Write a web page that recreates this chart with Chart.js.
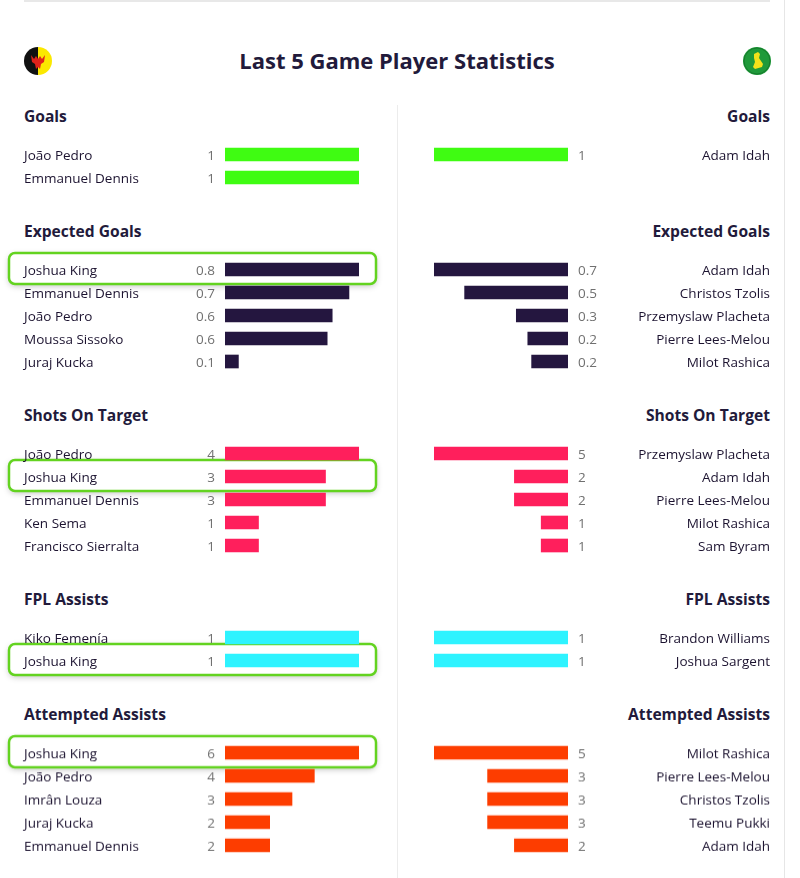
<!DOCTYPE html>
<html>
<head>
<meta charset="utf-8">
<script src="https://cdn.jsdelivr.net/npm/chart.js@4.4.0/dist/chart.umd.min.js"></script>
<style>
  body { margin: 0; background: #fff; }
  #page { position: relative; width: 800px; height: 878px; overflow: hidden; font-family: 'Open Sans', sans-serif; color: #1f1635; }
  .topline { position: absolute; left: 24px; top: 0; width: 746px; height: 2px; background: #e8e8e8; }
  .rightline { position: absolute; left: 784px; top: 0; width: 1px; height: 878px; background: #e6e6e6; }
  .divider { position: absolute; left: 397px; top: 105px; width: 1px; height: 773px; background: #ececec; }
  .title { position: absolute; left: 0; width: 794px; top: 45px; line-height: 30px; text-align: center; font-weight: 700; font-size: 22px; color: #221a3b; }
  .logo { position: absolute; top: 46px; }
  .head { position: absolute; line-height: 20px; height: 20px; font-weight: 700; font-size: 15.6px; color: #221a3b; white-space: nowrap; }
  .head.home { left: 24px; }
  .head.away { right: 30px; text-align: right; }
  canvas { position: absolute; }
</style>
</head>
<body>
<div id="page">
  <div class="topline"></div>
  <div class="rightline"></div>
  <div class="divider"></div>
  <svg class="logo" style="left:23px" width="30" height="30" viewBox="0 0 30 30">
    <defs><clipPath id="c1"><circle cx="15" cy="15" r="14"/></clipPath></defs>
    <g clip-path="url(#c1)">
      <rect x="0" y="0" width="15" height="30" fill="#111"/>
      <rect x="15" y="0" width="15" height="30" fill="#fbe800"/>
    </g>
    <path d="M8 9 L11 13 L13 10 L15 13 L17 10 L19 13 L22 9 L21 16 L18 18 L17 23 L15 21 L13 23 L12 18 L9 16 Z" fill="#e0231b"/>
  </svg>
  <svg class="logo" style="left:742px" width="30" height="30" viewBox="0 0 30 30">
    <circle cx="15" cy="15" r="14" fill="#1f9a3a"/>
    <circle cx="15" cy="15" r="13" fill="none" stroke="#167a2c" stroke-width="1"/>
    <path d="M12 8 L16 6 L18 8 L17 12 L21 18 L20 21 L13 23 L11 21 L13 16 L12 12 Z" fill="#f3e21a"/>
  </svg>
  <div class="title">Last 5 Game Player Statistics</div>
</div>
<script>
// section titles, in page order
const sectionTitles = ['Goals', 'Expected Goals', 'Shots On Target', 'FPL Assists', 'Attempted Assists'];

// home side (left)
const goalsHomeNames = ['João Pedro', 'Emmanuel Dennis'];
const goalsHomeValues = [1, 1];
const xgHomeNames = ['Joshua King', 'Emmanuel Dennis', 'João Pedro', 'Moussa Sissoko', 'Juraj Kucka'];
const xgHomeValues = [0.8, 0.74, 0.64, 0.61, 0.08];
const sotHomeNames = ['João Pedro', 'Joshua King', 'Emmanuel Dennis', 'Ken Sema', 'Francisco Sierralta'];
const sotHomeValues = [4, 3, 3, 1, 1];
const fplHomeNames = ['Kiko Femenía', 'Joshua King'];
const fplHomeValues = [1, 1];
const attHomeNames = ['Joshua King', 'João Pedro', 'Imrân Louza', 'Juraj Kucka', 'Emmanuel Dennis'];
const attHomeValues = [6, 4, 3, 2, 2];

// away side (right)
const goalsAwayNames = ['Adam Idah'];
const goalsAwayValues = [1];
const xgAwayNames = ['Adam Idah', 'Christos Tzolis', 'Przemyslaw Placheta', 'Pierre Lees-Melou', 'Milot Rashica'];
const xgAwayValues = [0.7, 0.54, 0.27, 0.21, 0.19];
const sotAwayNames = ['Przemyslaw Placheta', 'Adam Idah', 'Pierre Lees-Melou', 'Milot Rashica', 'Sam Byram'];
const sotAwayValues = [5, 2, 2, 1, 1];
const fplAwayNames = ['Brandon Williams', 'Joshua Sargent'];
const fplAwayValues = [1, 1];
const attAwayNames = ['Milot Rashica', 'Pierre Lees-Melou', 'Christos Tzolis', 'Teemu Pukki', 'Adam Idah'];
const attAwayValues = [5, 3, 3, 3, 2];

const valueDecimals = [0, 1, 0, 0, 0];
const highlightPlayer = 'Joshua King';

// styling
const barColors = ['#3ffc12', '#24163f', '#ff1f5c', '#2ef3ff', '#fd3d00'];

const sections = [
  [goalsHomeNames, goalsHomeValues, goalsAwayNames, goalsAwayValues],
  [xgHomeNames, xgHomeValues, xgAwayNames, xgAwayValues],
  [sotHomeNames, sotHomeValues, sotAwayNames, sotAwayValues],
  [fplHomeNames, fplHomeValues, fplAwayNames, fplAwayValues],
  [attHomeNames, attHomeValues, attAwayNames, attAwayValues],
];

const ROW = 23.1, PAD = 20;

// names, values and the highlight box, placed from the category scale
const rowLabels = {
  id: 'rowLabels',
  beforeDatasetsDraw(chart, args, o) {
    if (!o.highlight) return;
    const ctx = chart.ctx;
    o.names.forEach((n, i) => {
      if (n !== highlightPlayer) return;
      const cy = chart.scales.y.getPixelForValue(i);
      ctx.save();
      ctx.beginPath();
      ctx.roundRect(9, cy - 16.5, 367, 31, 6);
      ctx.shadowColor = 'rgba(0,0,0,0.25)';
      ctx.shadowBlur = 6;
      ctx.shadowOffsetY = 2;
      ctx.fillStyle = '#fff';
      ctx.fill();
      ctx.shadowColor = 'transparent';
      ctx.lineWidth = 2.5;
      ctx.strokeStyle = '#63d320';
      ctx.stroke();
      ctx.restore();
    });
  },
  afterDatasetsDraw(chart, args, o) {
    const ctx = chart.ctx;
    ctx.save();
    ctx.font = '500 13.5px "Open Sans"';
    ctx.textBaseline = 'alphabetic';
    o.names.forEach((n, i) => {
      const y = chart.scales.y.getPixelForValue(i) + 5.5;
      ctx.fillStyle = '#1c1330';
      ctx.textAlign = o.away ? 'right' : 'left';
      ctx.fillText(n, o.nameX, y);
      ctx.fillStyle = '#707070';
      ctx.textAlign = o.away ? 'left' : 'right';
      ctx.fillText(o.values[i].toFixed(o.decimals), o.valueX, y);
    });
    ctx.restore();
  }
};

function addHead(text, y, away) {
  const d = document.createElement('div');
  d.className = 'head ' + (away ? 'away' : 'home');
  d.style.top = (y - 10.5) + 'px';
  d.textContent = text;
  document.getElementById('page').appendChild(d);
}

function addChart(names, values, away, color, decimals, firstRowY) {
  const c = document.createElement('canvas');
  const left = away ? 398 : 0;
  const w = away ? 402 : 397;
  const h = names.length * ROW + PAD * 2;
  c.style.left = left + 'px';
  c.style.top = (firstRowY - ROW / 2 - PAD) + 'px';
  c.style.width = w + 'px';
  c.style.height = h + 'px';
  c.width = w; c.height = h;
  document.getElementById('page').appendChild(c);
  new Chart(c, {
    type: 'bar',
    data: {
      labels: names,
      datasets: [{ data: values, backgroundColor: color, borderWidth: 0, barThickness: 13 }]
    },
    options: {
      indexAxis: 'y',
      responsive: false,
      animation: false,
      layout: { padding: away ? { left: 434 - left, right: 800 - 568, top: PAD, bottom: PAD }
                              : { left: 225, right: w - 359, top: PAD, bottom: PAD } },
      scales: {
        x: { display: false, min: 0, max: Math.max(...values), reverse: away },
        y: { display: false }
      },
      plugins: {
        legend: { display: false },
        tooltip: { enabled: false },
        rowLabels: {
          names: names, values: values, decimals: decimals, away: away, highlight: !away,
          nameX: away ? 770 - left : 24,
          valueX: away ? 578 - left : 215
        }
      }
    },
    plugins: [rowLabels]
  });
}

let headY = 116;
sections.forEach((s, k) => {
  const [hn, hv, an, av] = s;
  const firstRow = headY + 38.2;
  addHead(sectionTitles[k], headY, false);
  addHead(sectionTitles[k], headY, true);
  addChart(hn, hv, false, barColors[k], valueDecimals[k], firstRow);
  addChart(an, av, true, barColors[k], valueDecimals[k], firstRow);
  const rows = Math.max(hn.length, an.length);
  headY = firstRow + (rows - 1) * ROW + 53.7;
});
</script>
</body>
</html>
